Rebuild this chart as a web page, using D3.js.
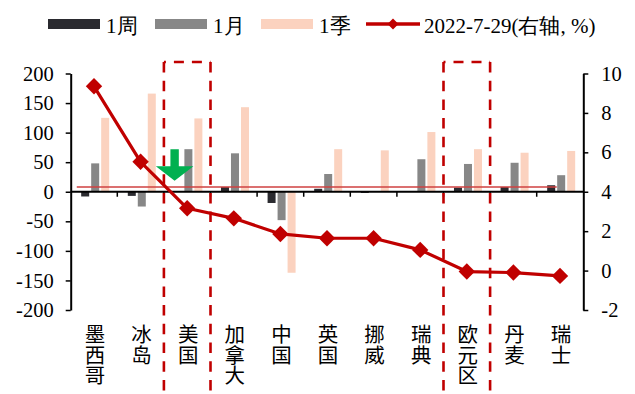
<!DOCTYPE html>
<html>
<head>
<meta charset="utf-8">
<script src="https://cdn.jsdelivr.net/npm/d3@7"></script>
<style>
  html, body { margin: 0; padding: 0; background: #fff; }
  svg { display: block; }
  .num { font-family: "Liberation Serif", "Times New Roman", serif; }
  .cjk { font-family: "Noto Sans CJK SC", sans-serif; }
</style>
</head>
<body>
<svg id="chart" width="635" height="394"></svg>
<script>
// Categories (economies) and the three change series on the left axis
const categories = ["墨西哥", "冰岛", "美国", "加拿大", "中国", "英国", "挪威", "瑞典", "欧元区", "丹麦", "瑞士"];
const week    = [-8, -7, 0, 8, -19, 5, -2, 0, 7, 8, 11];
const month   = [48, -25, 72, 65, -48, 30, 0, 55, 47, 49, 28];
const quarter = [125, 166, 124, 143, -137, 72, 70, 101, 72, 66, 69];

// Level on 2022-7-29, right axis (%)
const rate = [9.35, 5.52, 3.16, 2.65, 1.86, 1.64, 1.64, 1.05, -0.05, -0.1, -0.27];

const leftTicks  = [-200, -150, -100, -50, 0, 50, 100, 150, 200];
const rightTicks = [-2, 0, 2, 4, 6, 8, 10];

const seriesNames  = ["1周", "1月", "1季"];
const lineName     = "2022-7-29(右轴, %)";
const highlighted  = ["美国", "欧元区"];
const referenceLevel = 8;

const colors = { week: "#2a2a2f", month: "#878787", quarter: "#fbd2bf", line: "#c00000", ref: "#cf4040", arrow: "#00b050" };

const svg = d3.select("#chart");
const plot = { left: 70.7, right: 583.3, top: 73.5, bottom: 310 };

const x = d3.scaleBand().domain(categories).range([plot.left, plot.right]).padding(0);
const yL = d3.scaleLinear().domain([-200, 200]).range([plot.bottom, plot.top]);
const yR = d3.scaleLinear().domain([-2, 10]).range([plot.bottom, plot.top]);
const bw = x.bandwidth();

// Bars: three per category
const barW = 8, barStep = 10, barStart = bw * 0.225;
const barSeries = [
  { values: week, color: colors.week },
  { values: month, color: colors.month },
  { values: quarter, color: colors.quarter }
];
barSeries.forEach((s, si) => {
  svg.append("g").selectAll("rect").data(s.values).join("rect")
    .attr("x", (d, i) => x(categories[i]) + barStart + si * barStep)
    .attr("width", barW)
    .attr("y", d => Math.min(yL(d), yL(0)))
    .attr("height", d => Math.abs(yL(d) - yL(0)))
    .attr("fill", s.color);
});

// Zero line and category ticks
svg.append("line")
  .attr("x1", plot.left).attr("x2", plot.right)
  .attr("y1", yL(0)).attr("y2", yL(0))
  .attr("stroke", "#000").attr("stroke-width", 2);
categories.slice(1).forEach(c => {
  svg.append("line")
    .attr("x1", x(c)).attr("x2", x(c))
    .attr("y1", yL(0)).attr("y2", yL(0) + 5)
    .attr("stroke", "#000").attr("stroke-width", 1.5);
});

// Thin reference line
svg.append("line")
  .attr("x1", x(categories[0]) + bw * 0.13)
  .attr("x2", x(categories[categories.length - 1]) + bw * 0.43)
  .attr("y1", yL(referenceLevel)).attr("y2", yL(referenceLevel))
  .attr("stroke", colors.ref).attr("stroke-width", 1.6);

// Axes (plain hyphen for negative labels)
const fmt = d => String(d);
const axL = svg.append("g")
  .attr("transform", `translate(${plot.left},0)`)
  .call(d3.axisLeft(yL).tickValues(leftTicks).tickFormat(fmt).tickSize(5).tickPadding(12).tickSizeOuter(0));
const axR = svg.append("g")
  .attr("transform", `translate(${plot.right},0)`)
  .call(d3.axisRight(yR).tickValues(rightTicks).tickFormat(fmt).tickSize(5).tickPadding(13).tickSizeOuter(0));
[axL, axR].forEach(ax => {
  ax.select(".domain").attr("stroke", "#000").attr("stroke-width", 2);
  ax.selectAll(".tick line").attr("stroke", "#000").attr("stroke-width", 1.5);
  ax.selectAll(".tick text")
    .attr("class", "num")
    .attr("fill", "#000")
    .style("font-size", "20.5px");
});

// Line series with diamond markers
const line = d3.line()
  .x((d, i) => x(categories[i]) + bw / 2)
  .y(d => yR(d));
svg.append("path")
  .datum(rate)
  .attr("d", line)
  .attr("fill", "none")
  .attr("stroke", colors.line)
  .attr("stroke-width", 3.2)
  .attr("stroke-linejoin", "round");
const diamond = r => `M0,${-r}L${r},0L0,${r}L${-r},0Z`;
svg.append("g").selectAll("path").data(rate).join("path")
  .attr("transform", (d, i) => `translate(${x(categories[i]) + bw / 2},${yR(d)})`)
  .attr("d", diamond(8.2))
  .attr("fill", colors.line);

// Dashed highlight boxes
const boxTop = 62, boxBottom = 394;
highlighted.forEach(c => {
  const x0 = x(c), x1 = x(c) + bw;
  const g = svg.append("g").attr("stroke", colors.line).attr("stroke-width", 2.6).attr("fill", "none");
  [x0, x1].forEach(xx => {
    g.append("line").attr("x1", xx).attr("x2", xx)
      .attr("y1", boxTop).attr("y2", boxBottom)
      .attr("stroke-dasharray", "10.5 8.2");
  });
  g.append("line").attr("x1", x0).attr("x2", x1)
    .attr("y1", boxTop).attr("y2", boxTop)
    .attr("stroke-dasharray", "10 8")
    .attr("stroke-dashoffset", -10);
});

// Downward arrow above the US bars
(function () {
  const cx = x("美国") + bw * 0.23;
  const top = yL(72), neck = yL(43), tip = yL(18.5);
  const shaftHalf = 4.2, headHalf = 18.8;
  svg.append("path")
    .attr("d", `M${cx - shaftHalf},${top}L${cx + shaftHalf},${top}L${cx + shaftHalf},${neck}L${cx + headHalf},${neck}L${cx},${tip}L${cx - headHalf},${neck}L${cx - shaftHalf},${neck}Z`)
    .attr("fill", colors.arrow);
})();

// Category labels, written top to bottom
svg.append("g").attr("class", "cjk").selectAll("text").data(categories).join("text")
  .attr("x", c => x(c) + bw / 2 + 1)
  .attr("y", 324)
  .attr("writing-mode", "vertical-rl")
  .style("text-orientation", "upright")
  .style("font-size", "20.5px")
  .attr("fill", "#000")
  .text(c => c);

// Legend
const legY = 24;
const legend = svg.append("g");
const legendItems = [
  { name: seriesNames[0], color: colors.week, x: 48 },
  { name: seriesNames[1], color: colors.month, x: 155 },
  { name: seriesNames[2], color: colors.quarter, x: 261 }
];
legendItems.forEach(it => {
  legend.append("rect").attr("x", it.x).attr("y", legY - 5).attr("width", 52).attr("height", 10).attr("fill", it.color);
  legend.append("text").attr("x", it.x + 58).attr("y", legY + 9)
    .attr("class", "num").style("font-size", "21px").attr("fill", "#000")
    .text(it.name);
});
legend.append("line").attr("x1", 366).attr("x2", 420).attr("y1", legY).attr("y2", legY)
  .attr("stroke", colors.line).attr("stroke-width", 3.5);
legend.append("path").attr("transform", `translate(393,${legY})`).attr("d", diamond(5.5)).attr("fill", colors.line);
legend.append("text").attr("x", 424).attr("y", legY + 9)
  .attr("class", "num").style("font-size", "21px").attr("fill", "#000")
  .text(lineName);
</script>
</body>
</html>
